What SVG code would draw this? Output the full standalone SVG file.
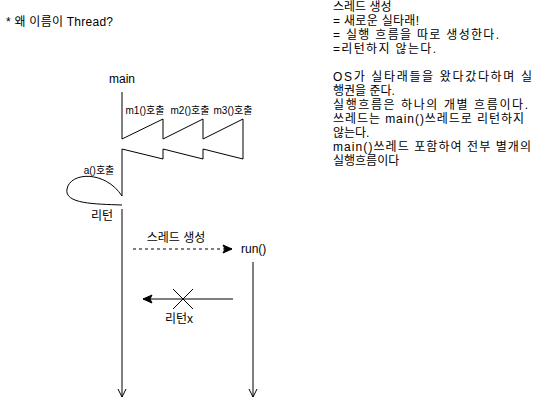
<svg xmlns="http://www.w3.org/2000/svg" width="534" height="408" viewBox="0 0 534 408">
<style>
text{font-family:"Liberation Sans","Noto Sans CJK KR",sans-serif;font-size:12px;fill:#000}
.s{font-size:10px}
.ln{fill:none;stroke:#000;stroke-width:1}
.m{text-anchor:middle}
</style>
<defs>
<marker id="open" markerWidth="12" markerHeight="12" refX="10" refY="6" orient="auto" markerUnits="userSpaceOnUse"><path d="M2,2 L10,6 L2,10" fill="none" stroke="#000" stroke-width="1"/></marker>
<marker id="classic" markerWidth="12" markerHeight="12" refX="10" refY="6" orient="auto" markerUnits="userSpaceOnUse"><path d="M1,2 L10,6 L1,10 L3,6 Z" fill="#000" stroke="#000" stroke-width="1"/></marker>
</defs>
<rect width="534" height="408" fill="#fff"/>
<g id="title"><text x="6" y="26" textLength="107">* 왜 이름이 Thread?</text></g>
<g id="notes">
<text x="333" y="11">스레드 생성</text>
<text x="333" y="25" textLength="86">= 새로운 실타래!</text>
<text x="333" y="39" textLength="166">= 실행 흐름을 따로 생성한다.</text>
<text x="333" y="53" textLength="103">=리턴하지 않는다.</text>
<text x="333" y="81" textLength="199">OS가 실타래들을 왔다갔다하며 실</text>
<text x="333" y="95">행권을 준다.</text>
<text x="333" y="109" textLength="195">실행흐름은 하나의 개별 흐름이다.</text>
<text x="333" y="123" textLength="191">쓰레드는 main()쓰레드로 리턴하지</text>
<text x="333" y="137">않는다.</text>
<text x="333" y="151" textLength="198">main()쓰레드 포함하여 전부 별개의</text>
<text x="333" y="165">실행흐름이다</text>
</g>
<g id="main-label"><text class="m" x="122" y="83">main</text></g>
<g id="m1-call"><text class="s m" x="145" y="114">m1()호출</text></g>
<g id="m2-call"><text class="s m" x="190" y="114">m2()호출</text></g>
<g id="m3-call"><text class="s m" x="233" y="114">m3()호출</text></g>
<g id="a-call"><text class="s m" x="99" y="174">a()호출</text></g>
<g id="return-label"><text class="m" x="102" y="220">리턴</text></g>
<g id="thread-create-label"><text class="m" x="176" y="242">스레드 생성</text></g>
<g id="run-label"><text x="241" y="253">run()</text></g>
<g id="returnx-label"><text class="m" x="179" y="323">리턴x</text></g>
<g id="connectors">
<path class="ln" d="M122,92 V139 L163,119 V139 L203,119 V139 L243,119 V159 L203,149 V159 L163,149 V159 L122,149 V196"/>
<path class="ln" d="M122,196 C105,170 70,172 67,189 C64,204 95,204 122,205"/>
<path class="ln" d="M122,209 V397" marker-end="url(#open)"/>
<path class="ln" d="M133,249 H232" stroke-dasharray="3,3" marker-end="url(#classic)"/>
<path class="ln" d="M253,262 V397" marker-end="url(#open)"/>
<path class="ln" d="M233,299 H143" marker-end="url(#classic)"/>
<path class="ln" d="M173,289 L193,309 M193,289 L173,309"/>
</g>
</svg>
